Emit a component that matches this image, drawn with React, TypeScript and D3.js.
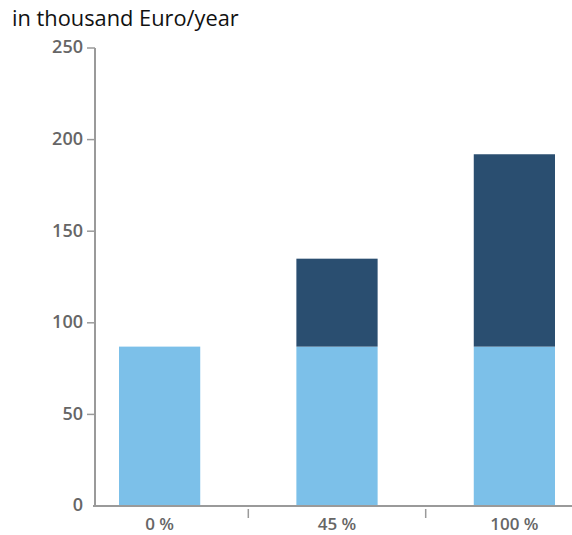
import React from "react";
import * as d3 from "d3";

const categories = ["0 %", "45 %", "100 %"];
const baseValues = [87, 87, 87];
const extraValues = [0, 48, 105];
const yTicks = [0, 50, 100, 150, 200, 250];
const title = "in thousand Euro/year";

const W = 572;
const H = 535;
const AXIS = "#9a9a9a";
const LIGHT = "#7cc0e9";
const DARK = "#2a4e70";
const FONT = "'Open Sans', 'DejaVu Sans', sans-serif";

export default function App() {
  const rows = categories.map((c, i) => ({ cat: c, base: baseValues[i], extra: extraValues[i] }));
  const stack = d3.stack<any>().keys(["base", "extra"]);
  const series = stack(rows);
  const colors: Record<string, string> = { base: LIGHT, extra: DARK };

  const x = d3.scaleBand<string>().domain(categories).range([119, 555]).paddingInner(0.542).paddingOuter(0);
  const y = d3.scaleLinear().domain([0, 250]).range([506, 48]);
  const axisX = 95;
  const bw = x.bandwidth();

  const sepTicks = categories.slice(0, -1).map((c, i) => {
    const a = (x(c) as number) + bw / 2;
    const b = (x(categories[i + 1]) as number) + bw / 2;
    return (a + b) / 2;
  });

  return (
    <div>
      <style>{`body{margin:0}`}</style>
      <svg width={W} height={H} style={{ display: "block", background: "#fff" }}>
        <text x={12} y={26} fontFamily={FONT} fontSize={21.8} fill="#111">{title}</text>
        {series.map((s) =>
          s.map((d, i) =>
            d[1] - d[0] > 0 ? (
              <rect
                key={s.key + i}
                x={x(categories[i])}
                y={y(d[1])}
                width={bw}
                height={y(d[0]) - y(d[1])}
                fill={colors[s.key]}
              />
            ) : null
          )
        )}
        {/* y axis */}
        <line x1={axisX} x2={axisX} y1={y(250)} y2={y(0) + 1} stroke={AXIS} strokeWidth={2} />
        {yTicks.map((t) => (
          <g key={t}>
            {t !== 0 && <line x1={axisX - 8} x2={axisX} y1={y(t)} y2={y(t)} stroke={AXIS} strokeWidth={1.5} />}
            <text
              x={83}
              y={y(t) - 1}
              dy="0.36em"
              textAnchor="end"
              fontFamily={FONT}
              fontSize={18}
              fontWeight={600}
              fill="#666"
            >
              {t}
            </text>
          </g>
        ))}
        {/* x axis */}
        <line x1={axisX - 2} x2={W} y1={y(0)} y2={y(0)} stroke={AXIS} strokeWidth={2} />
        {sepTicks.map((t, i) => (
          <line key={i} x1={t} x2={t} y1={y(0) + 3} y2={y(0) + 12} stroke={AXIS} strokeWidth={1.5} />
        ))}
        {categories.map((c) => (
          <text
            key={c}
            x={(x(c) as number) + bw / 2}
            y={524}
            dy="0.36em"
            textAnchor="middle"
            fontFamily={FONT}
            fontSize={17}
            fontWeight={600}
            fill="#666"
          >
            {c}
          </text>
        ))}
      </svg>
    </div>
  );
}
